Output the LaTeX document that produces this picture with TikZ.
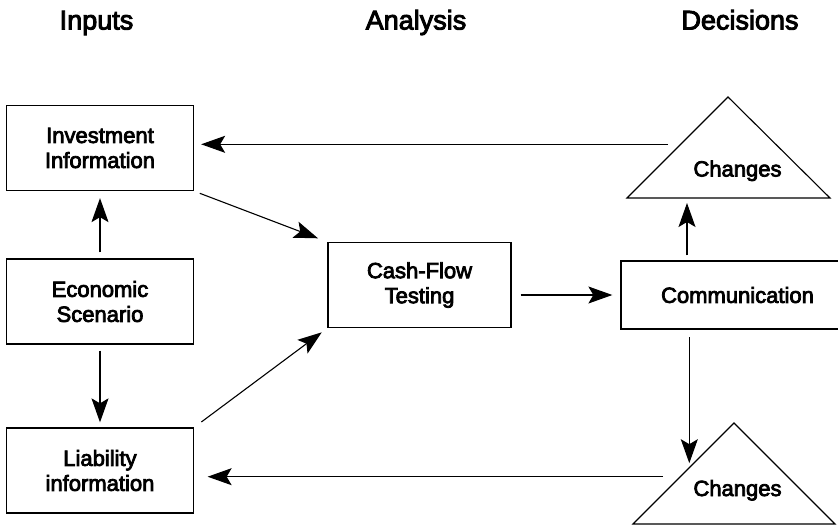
\documentclass[tikz,border=0pt]{standalone}
\usepackage{fontspec}
\setmainfont{Liberation Sans}[BoldFont=Liberation Sans, BoldFeatures={FakeBold=3.5}]
\usetikzlibrary{arrows.meta}

\tikzset{
	box/.style={draw, line width=1.3pt, minimum width=187pt, minimum height=85pt,
		inner sep=0pt, align=center, font=\fontsize{22}{25}\selectfont\bfseries},
	head/.style={anchor=base, font=\fontsize{27}{30}\selectfont\bfseries},
	lbl/.style={anchor=base, inner sep=0pt, font=\fontsize{22}{25}\selectfont\bfseries},
	tri/.style={line width=1.1pt, line join=miter},
	arr/.style={-{Stealth[length=24pt,width=17pt,inset=5pt]}, line width=1.1pt}
}

\begin{document}
\begin{tikzpicture}[x=1pt,y=-1pt]
		\useasboundingbox (0,0) rectangle (838,525);
		
		% column titles
		\node[head] (inputs) at (96.5,29.5) {Inputs};
		\node[head] (analysis) at (416,29.5) {Analysis};
		\node[head] (decisions) at (740,29.5) {Decisions};
		
		% inputs
		\node[box] (inv) at (100,148) {Investment\\Information};
		\node[box] (econ) at (100,301.5) {Economic\\Scenario};
		\node[box] (liab) at (100,470.5) {Liability\\information};
		
		% analysis and decisions
		\node[box, minimum width=183pt] (cft) at (419.5,285) {Cash-Flow\\Testing};
		\node[box, minimum width=233pt, minimum height=68pt] (comm) at (737.5,295) {Communication};
		
		\coordinate (apex1) at (728,97);
		\draw[tri] (apex1) -- ++(-101,101) -- ++(203,0) -- cycle;
		\node[lbl] (chg1) at (737.5,176.5) {Changes};
		
		\coordinate (apex2) at (734,423);
		\draw[tri] (apex2) -- ++(-101,101) -- ++(202,0) -- cycle;
		\node[lbl] (chg2) at (737.5,496) {Changes};
		
		\coordinate (base1) at (687,198);
		\coordinate (edge2) at (689.3,467.7);
		\coordinate (out1) at (668,144.3);
		\coordinate (out2) at (663,476.7);
		
		% connectors
		\draw[arr, shorten <=6pt, shorten >=7pt] (econ) -- (inv);
		\draw[arr, shorten <=6pt, shorten >=5pt] (econ) -- (liab);
		\draw[arr, shorten <=6pt, shorten >=10pt] (inv.south east) -- (cft.north west);
		\draw[arr, shorten <=9pt, shorten >=7pt] (liab.north east) -- (cft.south west);
		\draw[arr, shorten <=9pt, shorten >=8pt] (cft.east |- comm.west) -- (comm.west);
		\draw[arr, shorten <=5pt, shorten >=5pt] (comm.north -| base1) -- (base1);
		\draw[arr, shorten <=7.5pt, shorten >=4.5pt] (comm.south -| edge2) -- (edge2);
		\draw[arr, shorten >=7pt] (out1) -- (inv.east |- out1);
		\draw[arr, shorten >=13.5pt] (out2) -- (liab.east |- out2);
	\end{tikzpicture}
\end{document}
